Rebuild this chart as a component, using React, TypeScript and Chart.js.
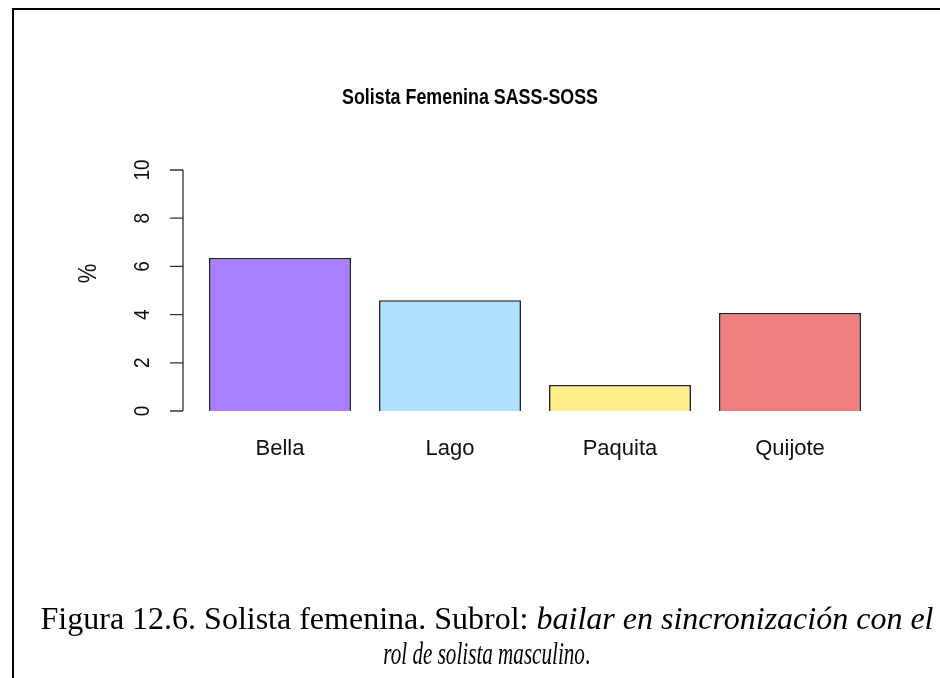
import React, { useEffect, useRef } from "react";
import { Chart, registerables } from "chart.js";
Chart.register(...registerables);

const categories = ["Bella", "Lago", "Paquita", "Quijote"];
const values = [6.35, 4.6, 1.08, 4.07];
const barColors = ["#a87fff", "#b0e0ff", "#ffec8b", "#f08080"];
const yTicks = [0, 2, 4, 6, 8, 10];
const chartTitle = "Solista Femenina SASS-SOSS";
const yTitle = "%";

export default function App() {
  const ref = useRef<HTMLCanvasElement>(null);
  useEffect(() => {
    document.body.style.margin = "0";
    const rAxes = {
      id: "rAxes",
      afterDraw(chart: any) {
        const ctx = chart.ctx;
        const ys = chart.scales.y;
        const xs = chart.scales.x;
        const area = chart.chartArea;
        const axisX = area.left - 12;
        ctx.save();
        ctx.strokeStyle = "#333";
        ctx.lineWidth = 1.3;
        const yTop = ys.getPixelForValue(yTicks[yTicks.length - 1]);
        const yBot = ys.getPixelForValue(yTicks[0]);
        ctx.beginPath();
        ctx.moveTo(axisX, yTop);
        ctx.lineTo(axisX, yBot);
        yTicks.forEach((t) => {
          const py = ys.getPixelForValue(t);
          ctx.moveTo(axisX - 13, py);
          ctx.lineTo(axisX, py);
        });
        ctx.stroke();
        ctx.fillStyle = "#111";
        ctx.font = "19px 'Liberation Sans', Arial, sans-serif";
        ctx.textAlign = "center";
        ctx.textBaseline = "middle";
        yTicks.forEach((t) => {
          const py = ys.getPixelForValue(t);
          ctx.save();
          ctx.translate(axisX - 40, py);
          ctx.scale(1.2, 1);
          ctx.rotate(-Math.PI / 2);
          ctx.fillText(String(t), 0, 0);
          ctx.restore();
        });
        ctx.save();
        ctx.font = "22px 'Liberation Sans', Arial, sans-serif";
        ctx.translate(axisX - 94, (yTop + yBot) / 2 - 17);
        ctx.scale(1.15, 1);
        ctx.rotate(-Math.PI / 2);
        ctx.fillText(yTitle, 0, 0);
        ctx.restore();
        ctx.font = "22px 'Liberation Sans', Arial, sans-serif";
        categories.forEach((c, i) => {
          ctx.fillText(c, xs.getPixelForValue(i), yBot + 38);
        });
        ctx.font = "bold 22px 'Liberation Sans', Arial, sans-serif";
        ctx.fillStyle = "#000";
        const w = ctx.measureText(chartTitle).width;
        ctx.save();
        ctx.translate(470, area.top - 72);
        ctx.scale(256 / w, 1);
        ctx.fillText(chartTitle, 0, 0);
        ctx.restore();
        ctx.restore();
      },
    };
    const chart = new Chart(ref.current!, {
      type: "bar",
      data: {
        labels: categories,
        datasets: [
          {
            data: values,
            backgroundColor: barColors,
            borderColor: "#222",
            borderWidth: 1.6,
            categoryPercentage: 1,
            barPercentage: 0.835,
          },
        ],
      },
      options: {
        responsive: false,
        animation: false,
        events: [],
        layout: { padding: { left: 195, right: 65, top: 170, bottom: 267 } },
        plugins: { legend: { display: false }, title: { display: false }, tooltip: { enabled: false } },
        scales: {
          x: { display: false },
          y: { display: false, min: 0, max: 10 },
        },
      },
      plugins: [rAxes],
    });
    return () => chart.destroy();
  }, []);
  const captionFont: React.CSSProperties = {
    fontFamily: "'Liberation Serif', 'Times New Roman', serif",
    fontSize: 32,
    lineHeight: "35px",
    color: "#000",
    whiteSpace: "nowrap",
  };
  return (
    <div style={{ position: "fixed", left: 0, top: 0, width: 940, height: 678, background: "#fff", overflow: "hidden" }}>
      <canvas ref={ref} width={940} height={678} style={{ position: "absolute", left: 0, top: 0, display: "block" }} />
      <div style={{ position: "absolute", left: 12, top: 8, width: 940, height: 680, borderTop: "2px solid #000", borderLeft: "2px solid #000" }} />
      <div style={{ ...captionFont, position: "absolute", left: 14, width: 946, top: 601, textAlign: "center" }}>
        Figura 12.6. Solista femenina. Subrol: <i>bailar en sincronización con el</i>
      </div>
      <div style={{ ...captionFont, position: "absolute", left: 14, width: 946, top: 636, textAlign: "center" }}>
        <span style={{ display: "inline-block", transform: "scaleX(0.66)", transformOrigin: "50% 50%" }}>
          <i>rol de solista masculino</i>.
        </span>
      </div>
    </div>
  );
}
